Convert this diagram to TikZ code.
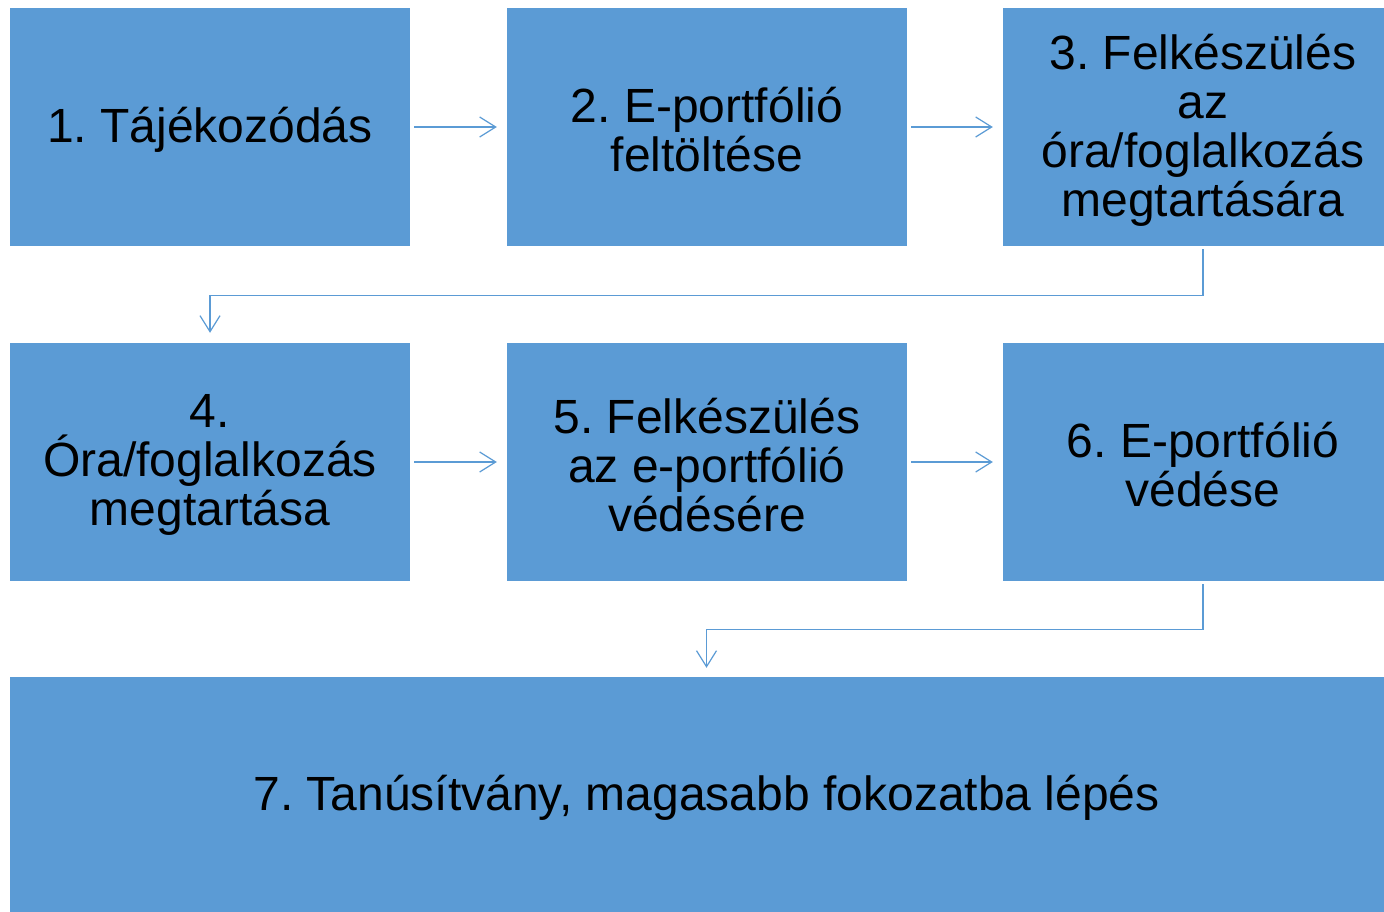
\documentclass[tikz,border=0pt]{standalone}
\usepackage{fontspec}
\setmainfont{Liberation Sans}
\usetikzlibrary{arrows.meta}
\definecolor{boxblue}{HTML}{5B9BD5}
\frenchspacing
\tikzset{
  stepbox/.style={fill=boxblue, draw=none, minimum width=400pt, minimum height=238pt,
    inner sep=0pt},
  txt/.style={align=center, text=black, inner sep=0pt, yshift=-3pt,
    font=\fontsize{48pt}{49pt}\selectfont},
  arr/.style={draw=boxblue, line width=1.2pt,
    -{Straight Barb[length=16pt,width=20pt,line width=1.2pt]}}
}
\begin{document}
\begin{tikzpicture}[x=1pt,y=-1pt]
\clip (0,0) rectangle (1384,912);
\fill[white] (0,0) rectangle (1384,912);
\node[stepbox, label={[txt]center:1. Tájékozódás}] (b1) at (210,127) {};
\node[stepbox, label={[txt]center:2. E-portfólió\\feltöltése}] (b2) at (707,127) {};
\node[stepbox, label={[txt]center:3. Felkészülés\\az\\óra/foglalkozás\\megtartására}] (b3) at (1203,127) {};
\node[stepbox, label={[txt]center:4.\\Óra/foglalkozás\\megtartása}] (b4) at (210,462) {};
\node[stepbox, label={[txt]center:5. Felkészülés\\az e-portfólió\\védésére}] (b5) at (707,462) {};
\node[stepbox, label={[txt]center:6. E-portfólió\\védése}] (b6) at (1203,462) {};
\node[stepbox, minimum width=1393pt, minimum height=236pt, label={[txt]center:7. Tanúsítvány, magasabb fokozatba lépés}] (b7) at (706.5,795) {};
\draw[arr, shorten <=4pt, shorten >=10pt] (b1.east) -- (b2.west);
\draw[arr, shorten <=4pt, shorten >=10pt] (b2.east) -- (b3.west);
\draw[arr, shorten <=4pt, shorten >=10pt] (b4.east) -- (b5.west);
\draw[arr, shorten <=4pt, shorten >=10pt] (b5.east) -- (b6.west);
\draw[arr, shorten <=3pt, shorten >=10pt] (b3.south) -- ++(0,49) -| (b4.north);
\draw[arr, shorten <=3pt, shorten >=9pt] (b6.south) -- ++(0,48) -| (b7.north);
\end{tikzpicture}
\end{document}
